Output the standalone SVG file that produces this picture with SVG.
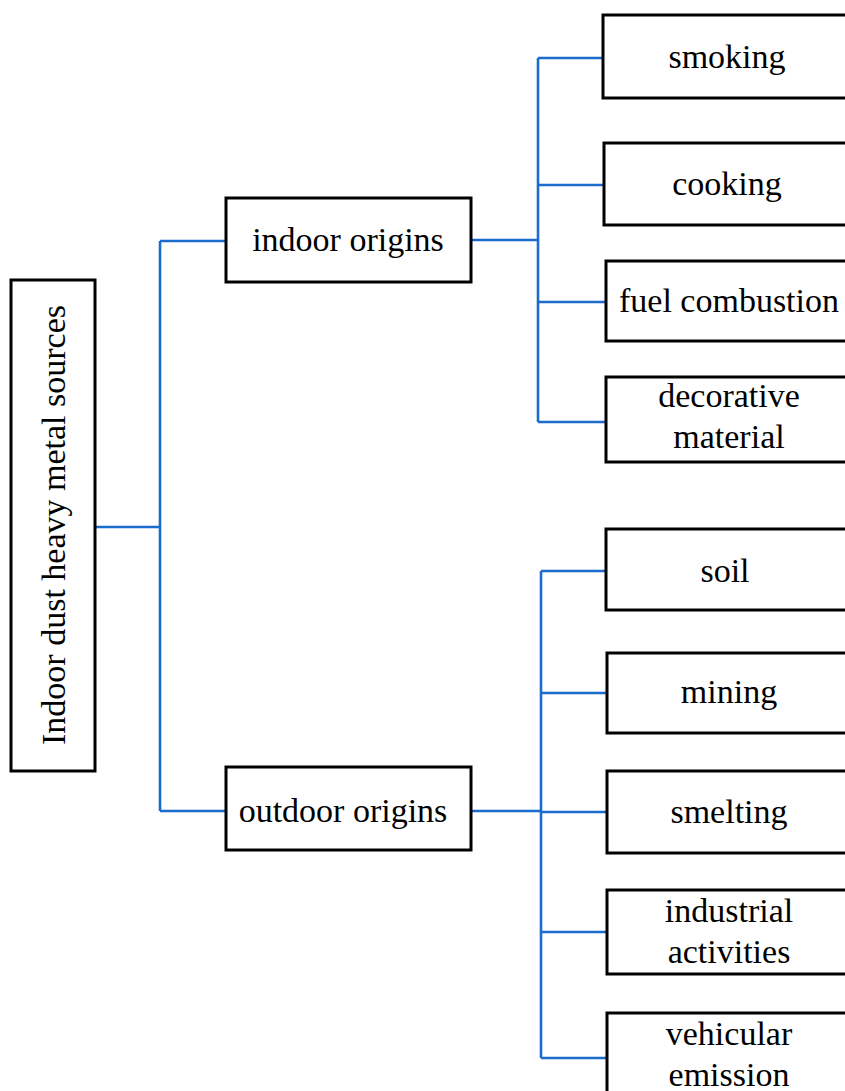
<svg xmlns="http://www.w3.org/2000/svg" width="845" height="1091" viewBox="0 0 845 1091">
<style>
.box{fill:#fff;stroke:#000;stroke-width:3}
.lbl{font-family:"Liberation Serif","Times New Roman",serif;font-size:34px;fill:#000;text-anchor:middle}
.con{fill:none;stroke:#1a6dcc;stroke-width:2.6;stroke-linejoin:round}
</style>
<rect width="845" height="1091" fill="#fff"/>
<g id="connectors" class="con">
<path d="M95 527H160M160 241V811M160 241H226M160 811H226"/>
<path d="M471 240H538M538 58V422M538 58H603M538 185H604M538 302H606M538 422H606"/>
<path d="M471 811H541M541 571V1058M541 571H606M541 693H607M541 812H607M541 932H607M541 1058H607"/>
</g>
<g id="root"><rect class="box" x="11" y="280" width="84" height="491"/><text class="lbl" transform="translate(65,525) rotate(-90)" x="0" y="0">Indoor dust heavy metal sources</text></g>
<g id="indoor"><rect class="box" x="226" y="198" width="245" height="84"/><text class="lbl" x="348" y="251">indoor origins</text></g>
<g id="outdoor"><rect class="box" x="226" y="767" width="245" height="83"/><text class="lbl" x="343" y="822">outdoor origins</text></g>
<g id="smoking"><rect class="box" x="603" y="15" width="250" height="83"/><text class="lbl" x="727" y="68">smoking</text></g>
<g id="cooking"><rect class="box" x="604" y="143" width="250" height="82"/><text class="lbl" x="727" y="195">cooking</text></g>
<g id="fuel"><rect class="box" x="606" y="261" width="250" height="80"/><text class="lbl" x="729" y="312">fuel combustion</text></g>
<g id="decorative"><rect class="box" x="606" y="377" width="250" height="85"/><text class="lbl" x="729" y="407">decorative</text><text class="lbl" x="729" y="448">material</text></g>
<g id="soil"><rect class="box" x="606" y="529" width="250" height="81"/><text class="lbl" x="725" y="582">soil</text></g>
<g id="mining"><rect class="box" x="607" y="653" width="250" height="80"/><text class="lbl" x="729" y="703">mining</text></g>
<g id="smelting"><rect class="box" x="607" y="771" width="250" height="82"/><text class="lbl" x="729" y="823">smelting</text></g>
<g id="industrial"><rect class="box" x="607" y="890" width="250" height="84"/><text class="lbl" x="729" y="922">industrial</text><text class="lbl" x="729" y="963">activities</text></g>
<g id="vehicular"><rect class="box" x="607" y="1013" width="250" height="90"/><text class="lbl" x="729" y="1045">vehicular</text><text class="lbl" x="729" y="1086">emission</text></g>
</svg>
